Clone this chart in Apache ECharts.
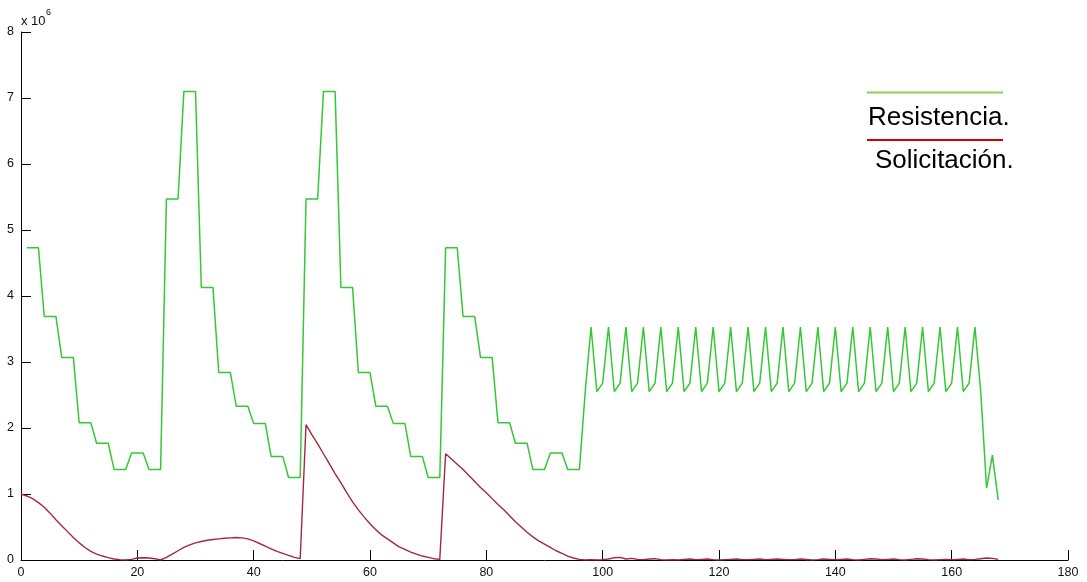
<!DOCTYPE html>
<html>
<head>
<meta charset="utf-8">
<script src="https://cdn.jsdelivr.net/npm/echarts@6/dist/echarts.min.js"></script>
<style>
  html, body { margin: 0; padding: 0; background: #fff; }
  #chart { width: 1087px; height: 582px; }
</style>
</head>
<body>
<div id="chart"></div>
<script>
// Hourly resistance (green) for hours 1..168, in units of 10^6
const resistenciaHoras = Array.from({ length: 168 }, (_, i) => i + 1);
const resistencia = [
  4.73, 4.73, 4.73, 3.69, 3.69, 3.69, 3.07, 3.07, 3.07, 2.08, 2.08, 2.08,
  1.77, 1.77, 1.77, 1.37, 1.37, 1.37, 1.62, 1.62, 1.62, 1.37, 1.37, 1.37,
  5.47, 5.47, 5.47, 7.10, 7.10, 7.10, 4.13, 4.13, 4.13, 2.84, 2.84, 2.84,
  2.33, 2.33, 2.33, 2.07, 2.07, 2.07, 1.57, 1.57, 1.57, 1.25, 1.25, 1.25,
  5.47, 5.47, 5.47, 7.10, 7.10, 7.10, 4.13, 4.13, 4.13, 2.84, 2.84, 2.84,
  2.33, 2.33, 2.33, 2.07, 2.07, 2.07, 1.57, 1.57, 1.57, 1.25, 1.25, 1.25,
  4.73, 4.73, 4.73, 3.69, 3.69, 3.69, 3.07, 3.07, 3.07, 2.08, 2.08, 2.08,
  1.77, 1.77, 1.77, 1.37, 1.37, 1.37, 1.62, 1.62, 1.62, 1.37, 1.37, 1.37,
  2.55,
  3.53, 2.55, 2.68, 3.53, 2.55, 2.68, 3.53, 2.55, 2.68, 3.53, 2.55, 2.68,
  3.53, 2.55, 2.68, 3.53, 2.55, 2.68, 3.53, 2.55, 2.68, 3.53, 2.55, 2.68,
  3.53, 2.55, 2.68, 3.53, 2.55, 2.68, 3.53, 2.55, 2.68, 3.53, 2.55, 2.68,
  3.53, 2.55, 2.68, 3.53, 2.55, 2.68, 3.53, 2.55, 2.68, 3.53, 2.55, 2.68,
  3.53, 2.55, 2.68, 3.53, 2.55, 2.68, 3.53, 2.55, 2.68, 3.53, 2.55, 2.68,
  3.53, 2.55, 2.68, 3.53, 2.55, 2.68,
  3.53, 2.55, 1.09, 1.59, 0.91
];

// Hourly load (red) for hours 0..168, in units of 10^6
const solicitacionHoras = Array.from({ length: 169 }, (_, i) => i);
const solicitacion = [
  1.00, 0.97, 0.93, 0.87, 0.80, 0.71, 0.61, 0.52, 0.43, 0.34, 0.26, 0.19,
  0.13, 0.09, 0.06, 0.035, 0.015, 0.005, 0.0, 0.01, 0.03, 0.035, 0.03, 0.02, 0.0,
  0.04, 0.09, 0.14, 0.19, 0.23, 0.26, 0.28, 0.30, 0.31, 0.32, 0.33, 0.335,
  0.34, 0.335, 0.32, 0.29, 0.25, 0.21, 0.17, 0.13, 0.10, 0.07, 0.04, 0.02,
  2.05, 1.90, 1.76, 1.61, 1.46, 1.31, 1.17, 1.02, 0.88, 0.76, 0.65, 0.55,
  0.46, 0.38, 0.32, 0.26, 0.20, 0.16, 0.12, 0.09, 0.06, 0.04, 0.02, 0.01,
  1.61, 1.53, 1.45, 1.37, 1.28, 1.19, 1.10, 1.02, 0.93, 0.84, 0.76, 0.67,
  0.58, 0.50, 0.42, 0.35, 0.29, 0.24, 0.19, 0.14, 0.10, 0.06, 0.03, 0.01, 0.0,
  0.005, 0.0, 0.005, 0.015, 0.035, 0.04, 0.015, 0.025, 0.01, 0.005, 0.015, 0.02, 0.005,
  0.0, 0.005, 0.0, 0.01, 0.015, 0.005, 0.01, 0.015, 0.005, 0.0,
  0.005, 0.01, 0.015, 0.005, 0.005, 0.01, 0.015, 0.005, 0.01, 0.015,
  0.01, 0.005, 0.005, 0.015, 0.01, 0.0, 0.005, 0.015, 0.01, 0.005,
  0.01, 0.015, 0.005, 0.0, 0.01, 0.02, 0.015, 0.005, 0.01, 0.015,
  0.005, 0.0, 0.01, 0.02, 0.015, 0.005, 0.0, 0.005, 0.01, 0.005,
  0.01, 0.015, 0.005, 0.01, 0.02, 0.03, 0.025, 0.01
];

const legendNames = ['Resistencia.', 'Solicitación.'];
const axisFont = 'Liberation Sans, Arial, sans-serif';

const chart = echarts.init(document.getElementById('chart'), null, { renderer: 'canvas' });

const axisCommon = {
  type: 'value',
  axisLine: { show: true, onZero: false, lineStyle: { color: '#000', width: 1 } },
  axisTick: { show: true, inside: true, length: 10, lineStyle: { color: '#000', width: 1 } },
  axisLabel: { color: '#111', fontFamily: axisFont, fontSize: 12.5 },
  splitLine: { show: false }
};

chart.setOption({
  animation: false,
  backgroundColor: '#fff',
  grid: { left: 21, right: 19, top: 32, bottom: 22, containLabel: false },
  xAxis: Object.assign({}, axisCommon, {
    min: 0, max: 180, interval: 20,
    axisLabel: Object.assign({}, axisCommon.axisLabel, { margin: 6 })
  }),
  yAxis: Object.assign({}, axisCommon, {
    min: 0, max: 8, interval: 1,
    axisLabel: Object.assign({}, axisCommon.axisLabel, { margin: 7 })
  }),
  series: [
    {
      name: legendNames[0],
      type: 'line',
      data: resistenciaHoras.map((h, i) => [h, resistencia[i]]),
      showSymbol: false,
      lineStyle: { color: '#35c835', width: 1.5 },
      z: 2
    },
    {
      name: legendNames[1],
      type: 'line',
      data: solicitacionHoras.map((h, i) => [h, solicitacion[i]]),
      showSymbol: false,
      lineStyle: { color: '#a3283f', width: 1.4 },
      z: 3
    }
  ],
  graphic: [
    // axis exponent label
    { type: 'text', x: 21, y: 21.5, style: { text: 'x 10', fontFamily: axisFont, fontSize: 13, fill: '#111', verticalAlign: 'middle' } },
    { type: 'text', x: 46, y: 13, style: { text: '6', fontFamily: axisFont, fontSize: 9, fill: '#111', verticalAlign: 'middle' } },
    // legend
    { type: 'line', shape: { x1: 867, y1: 92.5, x2: 1003, y2: 92.5 }, style: { stroke: '#92d050', lineWidth: 2 } },
    { type: 'text', x: 868, y: 118, style: { text: legendNames[0], fontFamily: axisFont, fontSize: 26, fill: '#000', verticalAlign: 'middle' } },
    { type: 'line', shape: { x1: 867, y1: 140, x2: 1003, y2: 140 }, style: { stroke: '#d40000', lineWidth: 2 } },
    { type: 'text', x: 875, y: 161, style: { text: legendNames[1], fontFamily: axisFont, fontSize: 26, fill: '#000', verticalAlign: 'middle' } }
  ]
});
</script>
</body>
</html>
